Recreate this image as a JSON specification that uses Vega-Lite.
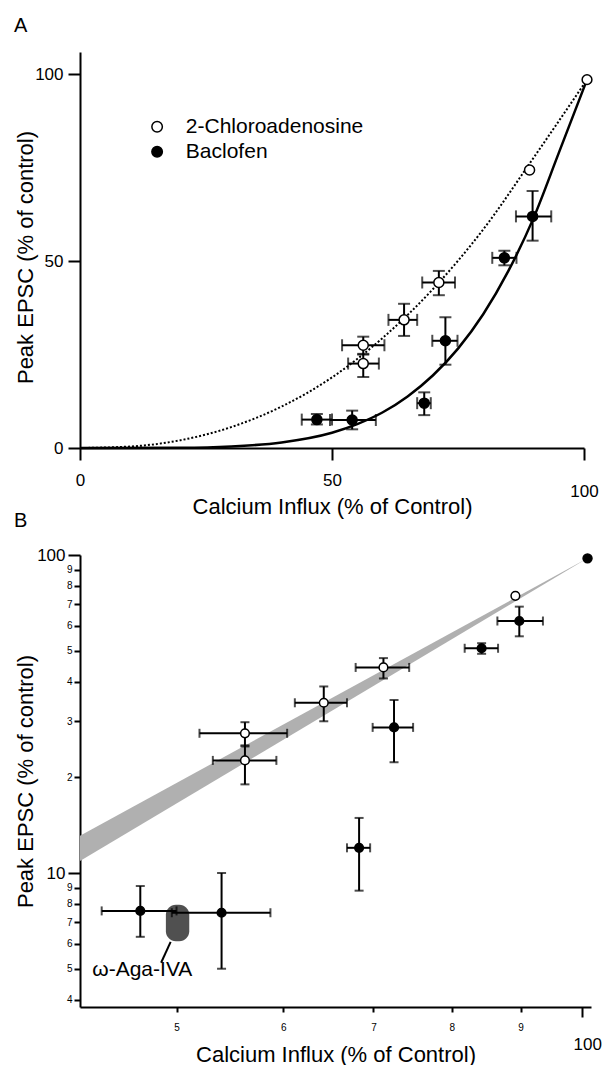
{
  "$schema": "https://vega.github.io/schema/vega-lite/v6.json",
  "background": "white",
  "padding": {"left": 14, "top": 16, "right": 0, "bottom": 0},
  "spacing": -6,
  "config": {
    "view": {"stroke": null},
    "font": "Liberation Sans",
    "axis": {"grid": false, "domainColor": "black", "domainWidth": 2, "tickColor": "black", "tickWidth": 2, "labelColor": "black", "titleColor": "black", "labelFont": "Liberation Sans", "titleFont": "Liberation Sans", "titleFontSize": 22, "titleFontWeight": "normal", "labelFlush": false, "labelOverlap": false, "labelBound": false},
    "title": {"font": "Liberation Sans", "fontSize": 20, "fontWeight": "normal", "color": "black", "anchor": "start", "frame": "group", "baseline": "alphabetic"}
  },
  "datasets": {
    "pts": [
      {"drug": "2-Chloroadenosine", "x": 56.2, "y": 27.5, "xlo": 52.0, "xhi": 60.4, "ylo": 25.0, "yhi": 29.8},
      {"drug": "2-Chloroadenosine", "x": 56.2, "y": 22.6, "xlo": 53.2, "xhi": 59.3, "ylo": 19.0, "yhi": 25.2},
      {"drug": "2-Chloroadenosine", "x": 64.3, "y": 34.3, "xlo": 61.2, "xhi": 66.9, "ylo": 30.0, "yhi": 38.6},
      {"drug": "2-Chloroadenosine", "x": 71.2, "y": 44.3, "xlo": 67.9, "xhi": 74.4, "ylo": 40.9, "yhi": 47.4},
      {"drug": "2-Chloroadenosine", "x": 89.2, "y": 74.4},
      {"drug": "Baclofen", "x": 84.2, "y": 50.9, "xlo": 81.8, "xhi": 86.6, "ylo": 48.9, "yhi": 52.8},
      {"drug": "Baclofen", "x": 72.5, "y": 28.7, "xlo": 69.9, "xhi": 74.9, "ylo": 22.3, "yhi": 35.0},
      {"drug": "Baclofen", "x": 68.3, "y": 12.0, "xlo": 66.9, "xhi": 69.6, "ylo": 8.8, "yhi": 14.9},
      {"drug": "Baclofen", "x": 54.0, "y": 7.5, "xlo": 49.6, "xhi": 58.7, "ylo": 5.0, "yhi": 10.0},
      {"drug": "Baclofen", "x": 47.0, "y": 7.6, "xlo": 44.0, "xhi": 50.0, "ylo": 6.3, "yhi": 9.1},
      {"drug": "Baclofen", "x": 89.8, "y": 62.0, "xlo": 86.5, "xhi": 93.5, "ylo": 55.5, "yhi": 68.8}
    ]
  },
  "vconcat": [
    {
      "title": {"text": "A", "offset": 16, "dx": -66},
      "width": 504,
      "height": 396,
      "layer": [
        {
          "data": {"values": [
            {"x": 0, "y": 0}, {"x": 10, "y": 0.4}, {"x": 20, "y": 2.1}, {"x": 30, "y": 5.6}, {"x": 40, "y": 11.1},
            {"x": 50, "y": 18.9}, {"x": 60, "y": 29.4}, {"x": 70, "y": 42.5}, {"x": 80, "y": 58.5}, {"x": 90, "y": 77.7}, {"x": 100.6, "y": 98.6}
          ]},
          "mark": {"type": "line", "color": "black", "strokeWidth": 2, "strokeDash": [2, 2], "interpolate": "monotone", "clip": false},
          "encoding": {
            "x": {"field": "x", "type": "quantitative", "title": "Calcium Influx (% of Control)", "scale": {"domain": [0, 100], "nice": false, "zero": false},
              "axis": {"values": [0, 50, 100], "title": "Calcium Influx (% of Control)", "tickSize": 12, "labelFontSize": 17,
                "labelPadding": {"condition": {"test": "datum.value >= 100", "value": 23}, "value": 12},
                "titleY": 48, "titleBaseline": "top"}},
            "y": {"field": "y", "type": "quantitative", "title": "Peak EPSC (% of control)", "scale": {"domain": [0, 106], "nice": false, "zero": false},
              "axis": {"values": [0, 50, 100], "title": "Peak EPSC (% of control)", "tickSize": 12, "labelFontSize": 17, "labelPadding": 5,
                "titleX": -48, "titleY": 205, "titleBaseline": "alphabetic"}}
          }
        },
        {
          "data": {"values": [
            {"x": 0, "y": 0}, {"x": 20, "y": 0.06}, {"x": 30, "y": 0.4}, {"x": 40, "y": 1.5}, {"x": 50, "y": 4.1},
            {"x": 55, "y": 6.4}, {"x": 60, "y": 9.5}, {"x": 65, "y": 13.8}, {"x": 70, "y": 19.4}, {"x": 75, "y": 26.6},
            {"x": 80, "y": 35.8}, {"x": 85, "y": 47.4}, {"x": 90, "y": 61.6}, {"x": 95, "y": 79.0}, {"x": 100.6, "y": 98.6}
          ]},
          "mark": {"type": "line", "color": "black", "strokeWidth": 2.5, "interpolate": "monotone", "clip": false},
          "encoding": {
            "x": {"field": "x", "type": "quantitative", "title": "Calcium Influx (% of Control)"},
            "y": {"field": "y", "type": "quantitative", "title": "Peak EPSC (% of control)"}
          }
        },
        {
          "data": {"name": "pts"},
          "mark": {"type": "errorbar", "ticks": {"size": 12}, "thickness": 2, "color": "black"},
          "encoding": {
            "x": {"field": "xlo", "type": "quantitative", "title": "Calcium Influx (% of Control)"},
            "x2": {"field": "xhi"},
            "y": {"field": "y", "type": "quantitative", "title": "Peak EPSC (% of control)"}
          }
        },
        {
          "data": {"name": "pts"},
          "mark": {"type": "errorbar", "ticks": {"size": 12}, "thickness": 2, "color": "black"},
          "encoding": {
            "y": {"field": "ylo", "type": "quantitative", "title": "Peak EPSC (% of control)"},
            "y2": {"field": "yhi"},
            "x": {"field": "x", "type": "quantitative", "title": "Calcium Influx (% of Control)"}
          }
        },
        {
          "data": {"name": "pts"},
          "mark": {"type": "point", "shape": "circle", "filled": true, "size": 100, "stroke": "black", "strokeWidth": 1.5, "opacity": 1, "clip": false},
          "encoding": {
            "x": {"field": "x", "type": "quantitative", "title": "Calcium Influx (% of Control)"},
            "y": {"field": "y", "type": "quantitative", "title": "Peak EPSC (% of control)"},
            "fill": {"field": "drug", "type": "nominal", "scale": {"domain": ["2-Chloroadenosine", "Baclofen"], "range": ["white", "black"]}, "legend": null}
          }
        },
        {
          "data": {"values": [{"x": 100.6, "y": 98.6, "drug": "2-Chloroadenosine"}]},
          "mark": {"type": "point", "shape": "circle", "filled": true, "size": 95, "stroke": "black", "strokeWidth": 1.5, "opacity": 1, "clip": false},
          "encoding": {
            "x": {"field": "x", "type": "quantitative", "title": "Calcium Influx (% of Control)"},
            "y": {"field": "y", "type": "quantitative", "title": "Peak EPSC (% of control)"},
            "fill": {"field": "drug", "type": "nominal", "legend": null}
          }
        },
        {
          "data": {"values": [{"x": 15.3, "y": 86.0, "drug": "2-Chloroadenosine"}, {"x": 15.3, "y": 79.3, "drug": "Baclofen"}]},
          "mark": {"type": "point", "shape": "circle", "filled": true, "size": 110, "stroke": "black", "strokeWidth": 1.5, "opacity": 1},
          "encoding": {
            "x": {"field": "x", "type": "quantitative", "title": "Calcium Influx (% of Control)"},
            "y": {"field": "y", "type": "quantitative", "title": "Peak EPSC (% of control)"},
            "fill": {"field": "drug", "type": "nominal", "legend": null}
          }
        },
        {
          "data": {"values": [{"x": 21.0, "y": 86.0, "drug": "2-Chloroadenosine"}, {"x": 21.0, "y": 79.3, "drug": "Baclofen"}]},
          "mark": {"type": "text", "align": "left", "baseline": "middle", "fontSize": 21, "font": "Liberation Sans", "color": "black"},
          "encoding": {
            "x": {"field": "x", "type": "quantitative", "title": "Calcium Influx (% of Control)"},
            "y": {"field": "y", "type": "quantitative", "title": "Peak EPSC (% of control)"},
            "text": {"field": "drug"}
          }
        }
      ]
    },
    {
      "title": {"text": "B", "offset": 15, "dx": -66},
      "width": 511,
      "height": 452,
      "layer": [
        {
          "data": {"values": [{"x": 42.4, "lo": 10.9, "hi": 13.1}, {"x": 100.9, "lo": 97.6, "hi": 97.6}]},
          "mark": {"type": "area", "color": "#b0b0b0", "clip": false},
          "encoding": {
            "x": {"field": "x", "type": "quantitative", "title": "Calcium Influx (% of Control)", "scale": {"type": "log", "domain": [42.4, 101.5], "nice": false},
              "axis": {"values": [50, 60, 70, 80, 90, 100], "title": "Calcium Influx (% of Control)",
                "labelExpr": "datum.value >= 100 ? '100' : '' + round(datum.value / 10)",
                "labelFontSize": {"condition": {"test": "datum.value >= 100", "value": 17}, "value": 10},
                "tickSize": {"condition": {"test": "datum.value >= 100", "value": 10}, "value": 5},
                "labelPadding": {"condition": {"test": "datum.value >= 100", "value": 19}, "value": 10},
                "labelOffset": {"condition": {"test": "datum.value >= 100", "value": 5}, "value": 0},
                "titleY": 37, "titleBaseline": "top"}},
            "y": {"field": "lo", "type": "quantitative", "title": "Peak EPSC (% of control)", "scale": {"type": "log", "domain": [3.79, 100], "nice": false},
              "axis": {"values": [4, 5, 6, 7, 8, 9, 10, 20, 30, 40, 50, 60, 70, 80, 90, 100], "title": "Peak EPSC (% of control)",
                "labelExpr": "datum.value >= 100 ? '100' : datum.value == 10 ? '10' : datum.value > 10 ? '' + round(datum.value / 10) : '' + datum.value",
                "labelFontSize": {"condition": {"test": "datum.value == 100 || datum.value == 10", "value": 17}, "value": 10},
                "tickSize": {"condition": {"test": "datum.value == 100 || datum.value == 10", "value": 12}, "value": 6},
                "labelPadding": {"condition": {"test": "datum.value == 100 || datum.value == 10", "value": 3}, "value": 2},
                "titleX": -48, "titleBaseline": "alphabetic"}},
            "y2": {"field": "hi"}
          }
        },
        {
          "data": {"values": [{"x": 49.1, "x2": 51.1, "y": 6.1, "y2": 7.95}]},
          "mark": {"type": "rect", "cornerRadius": 10, "color": "#505050"},
          "encoding": {
            "x": {"field": "x", "type": "quantitative", "title": "Calcium Influx (% of Control)"},
            "x2": {"field": "x2"},
            "y": {"field": "y", "type": "quantitative", "title": "Peak EPSC (% of control)"},
            "y2": {"field": "y2"}
          }
        },
        {
          "data": {"values": [{"x": 49.5, "y": 6.07, "x2": 48.7, "y2": 5.22}]},
          "mark": {"type": "rule", "color": "black", "strokeWidth": 2},
          "encoding": {
            "x": {"field": "x", "type": "quantitative", "title": "Calcium Influx (% of Control)"},
            "x2": {"field": "x2"},
            "y": {"field": "y", "type": "quantitative", "title": "Peak EPSC (% of control)"},
            "y2": {"field": "y2"}
          }
        },
        {
          "data": {"values": [{"x": 43.3, "y": 4.95, "label": "ω-Aga-IVA"}]},
          "mark": {"type": "text", "align": "left", "baseline": "middle", "fontSize": 21, "font": "Liberation Sans", "color": "black"},
          "encoding": {
            "x": {"field": "x", "type": "quantitative", "title": "Calcium Influx (% of Control)"},
            "y": {"field": "y", "type": "quantitative", "title": "Peak EPSC (% of control)"},
            "text": {"field": "label"}
          }
        },
        {
          "data": {"name": "pts"},
          "mark": {"type": "errorbar", "ticks": {"size": 9}, "thickness": 2, "color": "black"},
          "encoding": {
            "x": {"field": "xlo", "type": "quantitative", "title": "Calcium Influx (% of Control)"},
            "x2": {"field": "xhi"},
            "y": {"field": "y", "type": "quantitative", "title": "Peak EPSC (% of control)"}
          }
        },
        {
          "data": {"name": "pts"},
          "mark": {"type": "errorbar", "ticks": {"size": 9}, "thickness": 2, "color": "black"},
          "encoding": {
            "y": {"field": "ylo", "type": "quantitative", "title": "Peak EPSC (% of control)"},
            "y2": {"field": "yhi"},
            "x": {"field": "x", "type": "quantitative", "title": "Calcium Influx (% of Control)"}
          }
        },
        {
          "data": {"name": "pts"},
          "mark": {"type": "point", "shape": "circle", "filled": true, "size": 75, "stroke": "black", "strokeWidth": 1.5, "opacity": 1, "clip": false},
          "encoding": {
            "x": {"field": "x", "type": "quantitative", "title": "Calcium Influx (% of Control)"},
            "y": {"field": "y", "type": "quantitative", "title": "Peak EPSC (% of control)"},
            "fill": {"field": "drug", "type": "nominal", "scale": {"domain": ["2-Chloroadenosine", "Baclofen"], "range": ["white", "black"]}, "legend": null}
          }
        },
        {
          "data": {"values": [{"x": 100.9, "y": 97.6, "drug": "Baclofen"}]},
          "mark": {"type": "point", "shape": "circle", "filled": true, "size": 80, "stroke": "black", "strokeWidth": 1.5, "opacity": 1, "clip": false},
          "encoding": {
            "x": {"field": "x", "type": "quantitative", "title": "Calcium Influx (% of Control)"},
            "y": {"field": "y", "type": "quantitative", "title": "Peak EPSC (% of control)"},
            "fill": {"field": "drug", "type": "nominal", "legend": null}
          }
        }
      ]
    }
  ]
}
